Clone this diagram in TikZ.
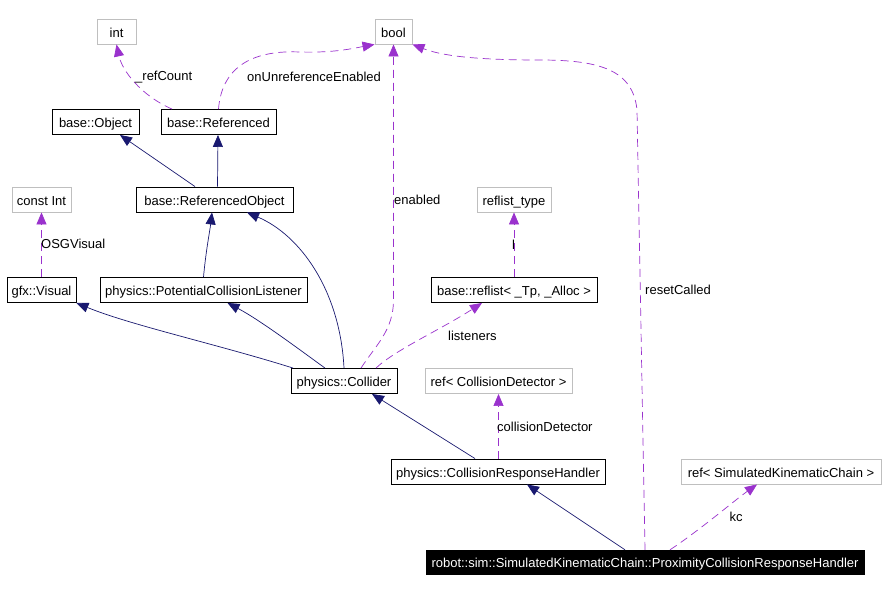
\documentclass[tikz,border=0pt]{standalone}
\usepackage{fontspec}
\setmainfont{Liberation Sans}
\usetikzlibrary{arrows.meta}
\definecolor{edgenavy}{RGB}{25,25,112}
\definecolor{edgepurple}{RGB}{154,50,205}
\definecolor{boxgray}{RGB}{191,191,191}
\begin{document}
\begin{tikzpicture}[x=1pt,y=-1pt,
  every node/.style={font=\fontsize{13}{15}\selectfont, inner sep=0pt},
  cls/.style={draw=black, line width=0.9pt, fill=white, minimum height=25pt, text height=11.5pt, text depth=0pt},
  ext/.style={draw=boxgray, line width=0.9pt, fill=white, minimum height=25pt, text height=11.5pt, text depth=0pt},
  mainbox/.style={draw=black, fill=black, text=white, minimum height=24pt, text height=11.5pt, text depth=0pt},
  inh/.style={draw=edgenavy, line width=0.7pt, -{Triangle[length=12pt,width=10pt]}},
  use/.style={draw=edgepurple, line width=0.7pt, dash pattern=on 8pt off 5pt, -{Triangle[length=12pt,width=10pt]}},
  lbl/.style={anchor=west}
]
\useasboundingbox (0,0) rectangle (888,592);
\fill[white] (0,0) rectangle (888,592);

% nodes
\node[ext, minimum width=39pt] (int) at (116.5,31.5) {int};
\node[ext, minimum width=37pt] (bool) at (393.5,31.5) {bool};
\node[cls, minimum width=87pt] (obj) at (95.5,122) {base::Object};
\node[cls, minimum width=115pt] (refd) at (218.5,122) {base::Referenced};
\node[cls, minimum width=157pt] (refobj) at (214.5,199.5) {base::ReferencedObject};
\node[ext, minimum width=59pt] (constint) at (41.5,199.5) {const Int};
\node[cls, minimum width=69pt] (visual) at (41.5,290) {gfx::Visual};
\node[cls, minimum width=207pt] (pcl) at (203.5,290) {physics::PotentialCollisionListener};
\node[cls, minimum width=106pt] (collider) at (344,381) {physics::Collider};
\node[ext, minimum width=74pt] (refltype) at (514,199.5) {reflist\_type};
\node[cls, minimum width=166pt] (reflist) at (514,290) {base::reflist< \_Tp, \_Alloc >};
\node[ext, minimum width=147pt] (refcd) at (498.5,381) {ref< CollisionDetector >};
\node[cls, minimum width=214pt] (crh) at (498,471.5) {physics::CollisionResponseHandler};
\node[ext, minimum width=200pt] (refskc) at (781,471.5) {ref< SimulatedKinematicChain >};
\node[mainbox, minimum width=438pt] (robot) at (645,562) {robot::sim::SimulatedKinematicChain::ProximityCollisionResponseHandler};

% inheritance
\draw[inh] ([xshift=-19.5pt]refobj.north) -- ([xshift=24.5pt]obj.south);
\draw[inh] ([xshift=3pt]refobj.north) -- ([xshift=-0.5pt]refd.south);
\draw[inh] (pcl.north) .. controls (206,250) and (210,230) .. ([xshift=-2.5pt]refobj.south);
\draw[inh] (collider.north) .. controls (340,290) and (300,235) .. ([xshift=32.5pt]refobj.south);
\draw[inh] ([xshift=-51pt]collider.north) .. controls (220,345) and (130,325) .. (visual.south east);
\draw[inh] ([xshift=-19pt]collider.north) .. controls (300,350) and (260,320) .. ([xshift=24pt]pcl.south);
\draw[inh] ([xshift=-23pt]crh.north) -- ([xshift=28pt]collider.south);
\draw[inh] ([xshift=-20pt]robot.north) -- ([xshift=29pt]crh.south);

% usage
\draw[use] ([xshift=-46.5pt]refd.north) .. controls (140,95) and (122,70) .. (int.south);
\node[lbl] at (135,77) {\_refCount};
\draw[use] (refd.north) .. controls (222,65) and (255,50) .. (300,52) .. controls (335,53) and (355,48) .. (bool.south west);
\node[lbl] at (247,77) {onUnreferenceEnabled};
\draw[use] ([xshift=17pt]collider.north) .. controls (376,345) and (393.5,330) .. (393.5,300) -- (bool.south);
\node[lbl] at (394,200) {enabled};
\draw[use] (robot.north) -- (637,110) .. controls (633,70) and (600,60) .. (540,60) .. controls (470,60) and (440,55) .. (bool.south east);
\node[lbl] at (645,290) {resetCalled};
\draw[use] (visual.north) -- (constint.south);
\node[lbl] at (41,244) {OSGVisual};
\draw[use] (reflist.north) -- (refltype.south);
\node[lbl] at (512,245) {l};
\draw[use] ([xshift=32pt]collider.north) .. controls (395,350) and (440,330) .. ([xshift=-32pt]reflist.south);
\node[lbl] at (448,336) {listeners};
\draw[use] (crh.north -| refcd.south) -- (refcd.south);
\node[lbl] at (497,427) {collisionDetector};
\draw[use] ([xshift=25pt]robot.north) .. controls (700,530) and (735,500) .. ([xshift=-24pt]refskc.south);
\node at (736,517) {kc};
\end{tikzpicture}
\end{document}
